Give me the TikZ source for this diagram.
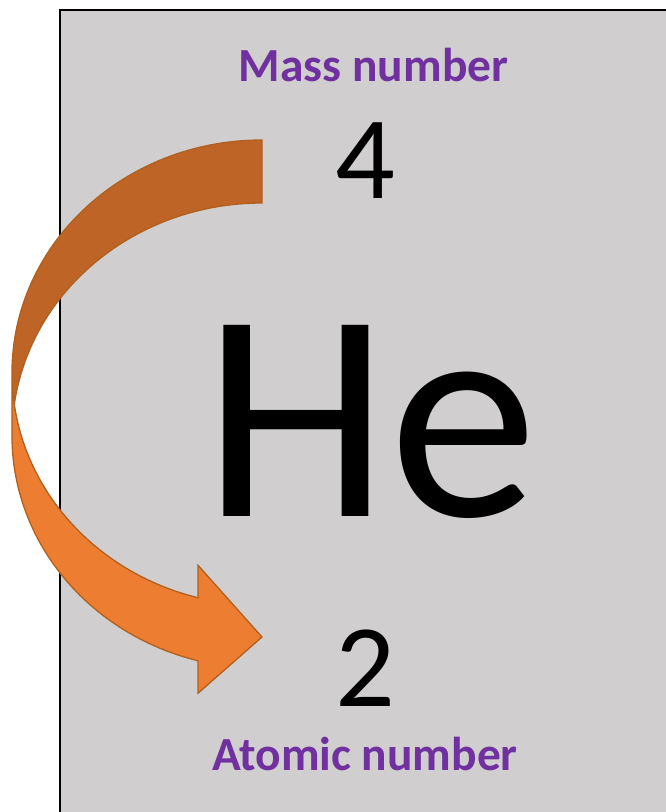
\documentclass[tikz,border=0pt]{standalone}
\usepackage{fontspec}
\setmainfont{Carlito}
\definecolor{cardfill}{HTML}{D0CECE}
\definecolor{labelpurple}{HTML}{7030A0}
\definecolor{arrowfront}{HTML}{ED7D31}
\definecolor{arrowback}{HTML}{BE6427}
\definecolor{arrowline}{HTML}{B0601F}
\begin{document}
\begin{tikzpicture}[x=1pt,y=-1pt,
  txt/.style={inner sep=0pt,outer sep=0pt,anchor=base},
  lbl/.style={txt,text=labelpurple,font=\bfseries\fontsize{47.5}{56}\selectfont},
  num/.style={txt,text=black,font=\fontsize{118}{140}\selectfont},
  sym/.style={txt,text=black,font=\fontsize{298}{350}\selectfont},
  card/.style={fill=cardfill,draw=black,line width=1.6pt},
  arrowedge/.style={draw=arrowline,line width=1.3pt,line join=miter}]
\useasboundingbox (0,0) rectangle (666,812);
% card
\path[card] (60,10) rectangle (700,850);
% texts
\node[lbl] (mass) at (373.5,81.7) {Mass number};
\node[num] (four) at (365,198.3) {4};
\node[sym] (he) at (370.5,516.7) {He};
\node[num] (two) at (365,706) {2};
\node[lbl] (atomic) at (365,770.7) {Atomic number};
% curved arrow: ellipses centred (262,372.75) and (262,435.75), rx=250, ry=232.75
\fill[arrowback] (262,203)
  arc[start angle=270,delta angle=-82.22,x radius=250,y radius=232.75]
  arc[start angle=172.22,delta angle=97.78,x radius=250,y radius=232.75]
  -- cycle;
\fill[arrowfront] (12,372.75)
  arc[start angle=180,delta angle=-75.17,x radius=250,y radius=232.75]
  -- (198,565.25) -- (262,637) -- (198,693.25) -- (198,660.75)
  arc[start angle=104.83,delta angle=75.17,x radius=250,y radius=232.75]
  -- cycle;
\path[arrowedge] (12,372.75)
  arc[start angle=180,delta angle=-75.17,x radius=250,y radius=232.75]
  -- (198,565.25) -- (262,637) -- (198,693.25) -- (198,660.75)
  arc[start angle=104.83,delta angle=75.17,x radius=250,y radius=232.75]
  -- (12,372.75)
  arc[start angle=180,delta angle=90,x radius=250,y radius=232.75]
  -- (262,203)
  arc[start angle=270,delta angle=-82.22,x radius=250,y radius=232.75];
\end{tikzpicture}
\end{document}
